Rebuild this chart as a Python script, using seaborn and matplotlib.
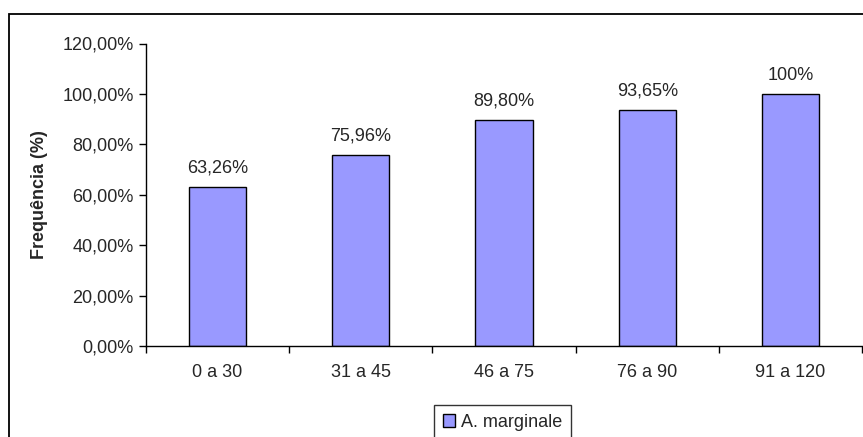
import pandas as pd
import numpy as np
import matplotlib.pyplot as plt
import seaborn as sns
from matplotlib.patches import Rectangle

categorias = ["0 a 30", "31 a 45", "46 a 75", "76 a 90", "91 a 120"]
frequencia = [63.26, 75.96, 89.80, 93.65, 100.0]
rotulos = ["63,26%", "75,96%", "89,80%", "93,65%", "100%"]
serie = "A. marginale"

df = pd.DataFrame({"faixa": categorias, "freq": frequencia, "serie": serie})

sns.set_style("white")
plt.rcParams['font.family'] = ['Liberation Sans', 'DejaVu Sans']
fs = 13

fig = plt.figure(figsize=(8.63, 4.37), dpi=100)
ax = fig.add_axes([146 / 863, 1 - 346 / 437, 716 / 863, (346 - 43.5) / 437])

# moldura externa
fig.patches.append(Rectangle((9 / 863, -0.05), 1.1, 1 - 14 / 437 + 0.05,
                             transform=fig.transFigure, fill=False,
                             edgecolor="black", linewidth=1.3))

sns.barplot(data=df, x="faixa", y="freq", hue="serie", ax=ax,
            palette=["#9999FF"], edgecolor="black", linewidth=1.0,
            width=0.4, saturation=1)

for i, (v, r) in enumerate(zip(frequencia, rotulos)):
    ax.text(i, v + 4.0, r, ha="center", va="bottom", fontsize=fs)

ax.set_ylim(0, 120)
ax.set_xlim(-0.5, 4.5)
ax.set_yticks(np.arange(0, 121, 20))
ax.set_yticklabels([f"{t:.2f}%".replace(".", ",") for t in np.arange(0, 121, 20)], fontsize=fs)
ax.set_xticks(range(5))
ax.set_xticklabels(categorias, fontsize=fs)
ax.set_xticks(np.arange(-0.5, 5, 1), minor=True)
ax.tick_params(axis="x", which="major", length=0, pad=13)
ax.tick_params(axis="x", which="minor", length=5, width=1, color="black", direction="out", bottom=True)
ax.tick_params(axis="y", length=5, width=1, color="black", direction="out", left=True, pad=4)
ax.set_xlabel("")
ax.set_ylabel("Frequência (%)", fontsize=fs, fontweight="bold", labelpad=10)

for s in ["top", "right"]:
    ax.spines[s].set_visible(False)
for s in ["left", "bottom"]:
    ax.spines[s].set_color("black")
    ax.spines[s].set_linewidth(1)

ax.legend_.remove()
leg = fig.legend(*ax.get_legend_handles_labels(), loc="upper center",
                 bbox_to_anchor=(502.5 / 863, 1 - 405 / 437), fontsize=fs, frameon=True,
                 fancybox=False, edgecolor="black", handlelength=0.7, handleheight=0.7,
                 handletextpad=0.3, borderpad=0.5, borderaxespad=0)
leg.get_frame().set_linewidth(1)

fig.savefig("out.png", dpi=100)
